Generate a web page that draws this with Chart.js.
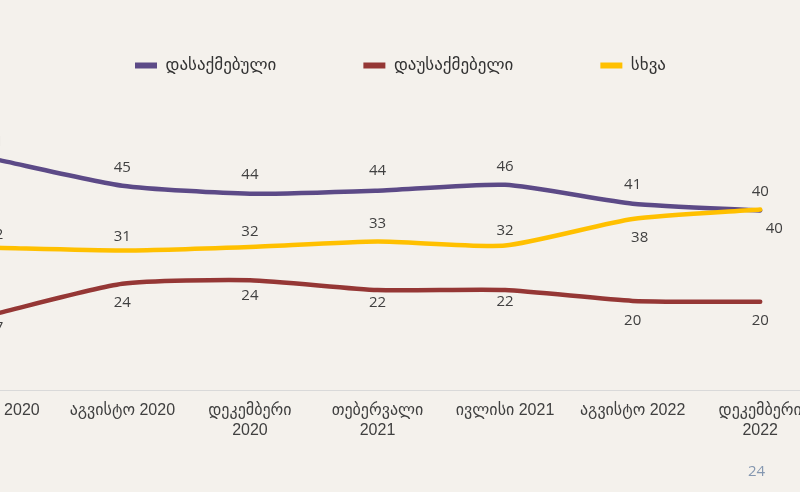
<!DOCTYPE html>
<html><head><meta charset="utf-8">
<script src="https://cdn.jsdelivr.net/npm/chart.js@4.4.1/dist/chart.umd.min.js"></script>
<style>
html,body{margin:0;padding:0;width:800px;height:492px;overflow:hidden;background:#f4f1ec;}
#wrap{position:absolute;left:-79px;top:-30px;width:959px;height:522px;}
#pg{position:absolute;left:748px;top:460px;font:15px "Open Sans",sans-serif;color:#8497b0;}
</style></head><body>
<div id="wrap"><canvas id="c"></canvas></div>
<div id="pg">24</div>
<script>
const categories = ["ივნისი 2020", "აგვისტო 2020", ["დეკემბერი", "2020"], ["თებერვალი", "2021"], "ივლისი 2021", "აგვისტო 2022", ["დეკემბერი", "2022"]];
const seriesNames = ["დასაქმებული", "დაუსაქმებელი", "სხვა"];
const employed   = [51.3, 45.4, 43.6, 44.3, 45.6, 41.4, 39.9];
const unemployed = [16.9, 23.6, 24.4, 22.2, 22.2, 19.8, 19.6];
const other      = [31.6, 31.0, 31.8, 33.0, 32.1, 38.0, 40.1];

const valueLabels = {
  id: 'valueLabels',
  afterDatasetsDraw(chart, args, opts) {
    const ctx = chart.ctx;
    ctx.save();
    ctx.font = opts.font;
    ctx.fillStyle = opts.color;
    ctx.textAlign = 'center';
    ctx.textBaseline = 'middle';
    chart.data.datasets.forEach((ds, i) => {
      const meta = chart.getDatasetMeta(i);
      meta.data.forEach((pt, j) => {
        const dy = opts.dy[i][j], dx = opts.dx[i][j];
        ctx.fillText(String(Math.round(ds.data[j])), pt.x + dx, pt.y + dy);
      });
    });
    ctx.restore();
  }
};

const common = { borderWidth: 4.5, pointRadius: 0, pointHoverRadius: 0, tension: 0.2, borderCapStyle: 'round', borderJoinStyle: 'round', fill: false };

new Chart(document.getElementById('c'), {
  type: 'line',
  data: {
    labels: categories,
    datasets: [
      Object.assign({ label: seriesNames[0], data: employed, borderColor: '#5c4a87', backgroundColor: '#5c4a87', order: 2 }, common),
      Object.assign({ label: seriesNames[1], data: unemployed, borderColor: '#953735', backgroundColor: '#953735', order: 2 }, common),
      Object.assign({ label: seriesNames[2], data: other, borderColor: '#ffc000', backgroundColor: '#ffc000', order: 1 }, common)
    ]
  },
  plugins: [valueLabels],
  options: {
    responsive: true,
    maintainAspectRatio: false,
    animation: false,
    layout: { padding: { left: 10, right: 10, top: 0, bottom: 0 } },
    plugins: {
      tooltip: { enabled: false },
      legend: {
        position: 'top',
        labels: {
          usePointStyle: true,
          pointStyle: 'line',
          pointStyleWidth: 22,
          padding: 87,
          color: '#333333',
          font: { family: '"DejaVu Sans", sans-serif', size: 17 },
          sort: (a, b) => a.datasetIndex - b.datasetIndex,
          generateLabels: (chart) => Chart.defaults.plugins.legend.labels.generateLabels(chart)
            .map(l => Object.assign(l, { lineWidth: 6 }))
        }
      },
      valueLabels: {
        font: '15px "Open Sans", sans-serif',
        color: '#404040',
        dy: [
          [-17, -18, -19, -20, -18, -19, -19],
          [14, 19, 16, 13, 12, 20, 19],
          [-13, -14, -15, -18, -15, 19, 19]
        ],
        dx: [
          [0, 0, 0, 0, 0, 0, 0],
          [0, 0, 0, 0, 0, 0, 0],
          [0, 0, 0, 0, 0, 7, 14]
        ]
      }
    },
    scales: {
      x: {
        offset: true,
        grid: { display: false, drawTicks: false },
        border: { display: true, color: '#d9d9d9', width: 1 },
        ticks: {
          color: '#404040',
          font: { family: '"Liberation Sans", "DejaVu Sans", sans-serif', size: 16, lineHeight: 1.22 },
          padding: 11,
          autoSkip: false,
          maxRotation: 0,
          minRotation: 0
        },
        afterFit: (s) => { s.height = 102; }
      },
      y: {
        position: 'right',
        min: 0,
        max: 68,
        grid: { display: false },
        border: { display: false },
        ticks: { display: false },
        afterFit: (s) => { s.width = 46; }
      }
    }
  }
});
</script>
</body></html>
